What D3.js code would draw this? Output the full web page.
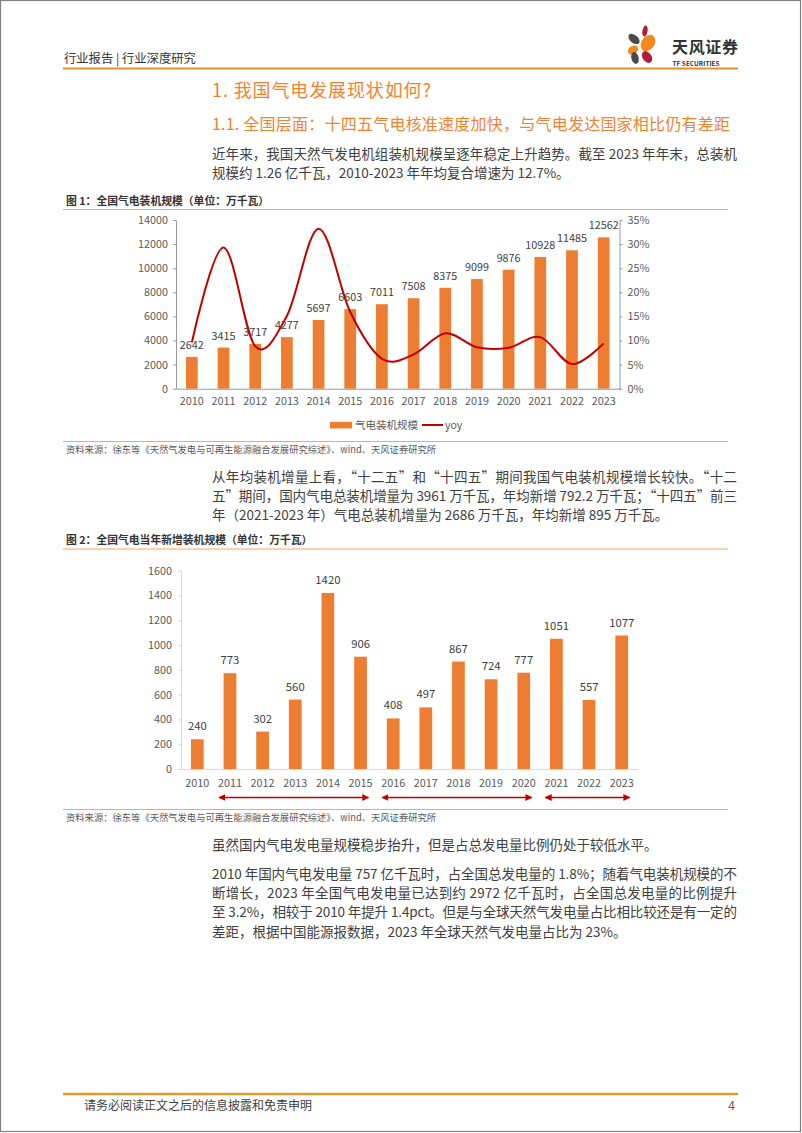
<!DOCTYPE html>
<html><head><meta charset="utf-8">
<script src="https://cdn.jsdelivr.net/npm/d3@7/dist/d3.min.js"></script>
<style>
html,body{margin:0;padding:0;background:#fff;}
svg{display:block;font-family:"Noto Sans CJK SC","Noto Sans",sans-serif;}
</style></head>
<body>
<svg id="page" width="802" height="1133"></svg>
<script>
// ---------- data ----------
const years = ['2010','2011','2012','2013','2014','2015','2016','2017','2018','2019','2020','2021','2022','2023'];
const capacity = [2642,3415,3717,4277,5697,6603,7011,7508,8375,9099,9876,10928,11485,12562];
const yoy = [0.096,0.293,0.088,0.151,0.332,0.159,0.062,0.071,0.115,0.086,0.085,0.107,0.051,0.094];
const newAdds = [240,773,302,560,1420,906,408,497,867,724,777,1051,557,1077];
const periods = [['2011','2015'],['2016','2020'],['2021','2023']];
const leftTicks1 = [0,2000,4000,6000,8000,10000,12000,14000];
const rightTicks1 = [0,0.05,0.10,0.15,0.20,0.25,0.30,0.35];
const ticks2 = [0,200,400,600,800,1000,1200,1400,1600];
const legendNames = ['气电装机规模','yoy'];

const ORANGE = '#ED7D31', RED = '#C00000', HEAD = '#EE8432', TXT = '#404040';
const svg = d3.select('#page');

// frame
svg.append('rect').attr('x',0.5).attr('y',0.5).attr('width',800).attr('height',1131)
  .attr('fill','#fff').attr('stroke','#808080').attr('stroke-width',1.2);

// ---------- header ----------
svg.append('text').attr('x',64).attr('y',62.5).attr('font-size',12.3).attr('fill','#333')
  .text('行业报告 | 行业深度研究');
svg.append('line').attr('x1',63).attr('x2',738).attr('y1',68.5).attr('y2',68.5)
  .attr('stroke','#E8902A').attr('stroke-width',2);
// logo
const logo = svg.append('g');
[[645,31,2.6,5.5,10,'#B01E3A'],[634,39,4,6.5,-50,'#4a4a4a'],[648,43,6.5,9,35,'#F08A1E'],
 [633,50,4,5.5,60,'#F08A1E'],[635,58,3.6,6,-15,'#4a4a4a'],[647,57,4.5,6.5,-35,'#B01E3A']]
 .forEach(p=>logo.append('ellipse').attr('cx',p[0]).attr('cy',p[1]).attr('rx',p[2]).attr('ry',p[3])
   .attr('transform',`rotate(${p[4]},${p[0]},${p[1]})`).attr('fill',p[5]));
svg.append('text').attr('x',672).attr('y',52.5).attr('font-size',16).attr('font-weight','bold')
  .attr('fill','#333').attr('textLength',66).text('天风证券');
svg.append('text').attr('x',672.5).attr('y',66).attr('font-size',6.3).attr('font-weight','bold')
  .attr('fill','#333').attr('textLength',47).text('TF SECURITIES');

// headings
svg.append('text').attr('x',212).attr('y',97).attr('font-size',18).attr('fill',HEAD)
  .attr('textLength',219).text('1. 我国气电发展现状如何?');
svg.append('text').attr('x',212).attr('y',130).attr('font-size',16).attr('fill',HEAD)
  .attr('textLength',518).text('1.1. 全国层面：十四五气电核准速度加快，与气电发达国家相比仍有差距');

function para(lines, y0, lh){
  lines.forEach((l,i)=>{
    const t = svg.append('text').attr('x',212).attr('y',y0+i*lh).attr('font-size',13.5)
      .attr('fill',TXT).text(l[0]);
    if(l[1]) t.attr('textLength',525).attr('lengthAdjust','spacing');
  });
}
para([['近年来，我国天然气发电机组装机规模呈逐年稳定上升趋势。截至 2023 年年末，总装机',1],
      ['规模约 1.26 亿千瓦，2010-2023 年年均复合增速为 12.7%。',0]],159,19.3);

// ---------- figure 1 ----------
function figTitle(t,y){
  svg.append('text').attr('x',66).attr('y',y).attr('font-size',10.8).attr('font-weight','bold')
    .attr('fill','#333').text(t);
  svg.append('line').attr('x1',63).attr('x2',728).attr('y1',y+5).attr('y2',y+5)
    .attr('stroke','#F0A866').attr('stroke-width',1.2);
}
function source(y){
  svg.append('line').attr('x1',63).attr('x2',728).attr('y1',y-11).attr('y2',y-11)
    .attr('stroke','#F0A866').attr('stroke-width',1.2);
  svg.append('text').attr('x',66).attr('y',y).attr('font-size',9.3).attr('fill','#595959')
    .text('资料来源：徐东等《天然气发电与可再生能源融合发展研究综述》、wind、天风证券研究所');
}
figTitle('图 1：全国气电装机规模（单位：万千瓦）',204.5);

const x1 = d3.scaleBand().domain(years).range([176,619.5]).paddingInner(0.63).paddingOuter(0.315);
const yL = d3.scaleLinear().domain([0,14000]).range([388.7,220]);
const yR = d3.scaleLinear().domain([0,0.35]).range([388.7,220]);
const c1 = svg.append('g');

function styleAxis(g, lineColor){
  g.selectAll('path,line').attr('stroke',lineColor);
  g.selectAll('text').attr('fill','#595959').attr('font-size',10.8)
   .attr('font-family','"Noto Sans CJK SC","Noto Sans",sans-serif');
}
const gL = c1.append('g').attr('transform','translate(176,0)')
  .call(d3.axisLeft(yL).tickValues(leftTicks1).tickFormat(d3.format('d')).tickSize(3).tickSizeOuter(0).tickPadding(5));
styleAxis(gL,'#999');
const gR = c1.append('g').attr('transform','translate(619.5,0)')
  .call(d3.axisRight(yR).tickValues(rightTicks1).tickFormat(d3.format('.0%')).tickSize(3).tickSizeOuter(0).tickPadding(5));
styleAxis(gR,'#999');

c1.selectAll('rect.bar').data(capacity).join('rect').attr('class','bar')
  .attr('x',(d,i)=>x1(years[i])).attr('width',x1.bandwidth())
  .attr('y',d=>yL(d)).attr('height',d=>yL(0)-yL(d)).attr('fill',ORANGE);
const gX = c1.append('g').attr('transform','translate(0,388.7)')
  .call(d3.axisBottom(x1).tickSize(0).tickSizeOuter(0).tickPadding(9));
styleAxis(gX,'#999');
c1.selectAll('text.lbl').data(capacity).join('text').attr('class','lbl')
  .attr('x',(d,i)=>x1(years[i])+x1.bandwidth()/2).attr('y',d=>yL(d)-8)
  .attr('text-anchor','middle').attr('font-size',10.8).attr('fill',TXT).text(d=>d);
const line = d3.line().x((d,i)=>x1(years[i])+x1.bandwidth()/2).y(d=>yR(d)).curve(d3.curveCardinal.tension(0));
c1.append('path').datum(yoy).attr('d',line).attr('fill','none').attr('stroke',RED).attr('stroke-width',2);

// legend
c1.append('rect').attr('x',330).attr('y',421.8).attr('width',22).attr('height',6.6).attr('fill',ORANGE);
c1.append('text').attr('x',355).attr('y',428.8).attr('font-size',10.5).attr('fill','#595959').text(legendNames[0]);
c1.append('line').attr('x1',422).attr('x2',443).attr('y1',425).attr('y2',425).attr('stroke',RED).attr('stroke-width',2);
c1.append('text').attr('x',445).attr('y',428.5).attr('font-size',10.5).attr('fill','#595959').text(legendNames[1]);

source(452.5);

para([['从年均装机增量上看，“十二五”和“十四五”期间我国气电装机规模增长较快。“十二',1],
      ['五”期间，国内气电总装机增量为 3961 万千瓦，年均新增 792.2 万千瓦；“十四五”前三',1],
      ['年（2021-2023 年）气电总装机增量为 2686 万千瓦，年均新增 895 万千瓦。',0]],481.5,19.3);

// ---------- figure 2 ----------
figTitle('图 2：全国气电当年新增装机规模（单位：万千瓦）',544);
const x2 = d3.scaleBand().domain(years).range([181,638]).paddingInner(0.61).paddingOuter(0.305);
const y2 = d3.scaleLinear().domain([0,1600]).range([769,570.7]);
const c2 = svg.append('g');
const g2L = c2.append('g').attr('transform','translate(181,0)')
  .call(d3.axisLeft(y2).tickValues(ticks2).tickFormat(d3.format('d')).tickSize(3).tickSizeOuter(0).tickPadding(6));
styleAxis(g2L,'#D9D9D9');
c2.selectAll('rect.bar').data(newAdds).join('rect').attr('class','bar')
  .attr('x',(d,i)=>x2(years[i])).attr('width',x2.bandwidth())
  .attr('y',d=>y2(d)).attr('height',d=>y2(0)-y2(d)).attr('fill',ORANGE);
const g2X = c2.append('g').attr('transform','translate(0,769)')
  .call(d3.axisBottom(x2).tickSize(0).tickSizeOuter(0).tickPadding(10));
styleAxis(g2X,'#D9D9D9');
c2.selectAll('text.lbl').data(newAdds).join('text').attr('class','lbl')
  .attr('x',(d,i)=>x2(years[i])+x2.bandwidth()/2).attr('y',d=>y2(d)-9)
  .attr('text-anchor','middle').attr('font-size',11.3).attr('fill',TXT).text(d=>d);

// period arrows
const defs = svg.append('defs');
defs.append('marker').attr('id','ah').attr('viewBox','0 0 10 10').attr('refX',9).attr('refY',5)
  .attr('markerWidth',7).attr('markerHeight',7).attr('markerUnits','userSpaceOnUse').attr('orient','auto-start-reverse')
  .append('path').attr('d','M0,0 L10,5 L0,10 z').attr('fill',RED);
c2.selectAll('line.arrow').data(periods).join('line').attr('class','arrow')
  .attr('x1',d=>x2(d[0])+x2.bandwidth()/2-11).attr('x2',d=>x2(d[1])+x2.bandwidth()/2+8)
  .attr('y1',797.5).attr('y2',797.5).attr('stroke',RED).attr('stroke-width',1.5)
  .attr('marker-start','url(#ah)').attr('marker-end','url(#ah)');

source(820.5);

para([['虽然国内气电发电量规模稳步抬升，但是占总发电量比例仍处于较低水平。',0]],850,19.3);
para([['2010 年国内气电发电量 757 亿千瓦时，占全国总发电量的 1.8%；随着气电装机规模的不',1],
      ['断增长，2023 年全国气电发电量已达到约 2972 亿千瓦时，占全国总发电量的比例提升',1],
      ['至 3.2%，相较于 2010 年提升 1.4pct。但是与全球天然气发电量占比相比较还是有一定的',1],
      ['差距，根据中国能源报数据，2023 年全球天然气发电量占比为 23%。',0]],878.5,19.4);

// ---------- footer ----------
svg.append('line').attr('x1',63).attr('x2',738).attr('y1',1094).attr('y2',1094)
  .attr('stroke','#E39B28').attr('stroke-width',2.5);
svg.append('text').attr('x',84).attr('y',1109.5).attr('font-size',12).attr('fill','#404040')
  .text('请务必阅读正文之后的信息披露和免责申明');
svg.append('text').attr('x',735).attr('y',1109.5).attr('font-size',12).attr('fill','#595959')
  .attr('text-anchor','end').text('4');
</script>
</body></html>
